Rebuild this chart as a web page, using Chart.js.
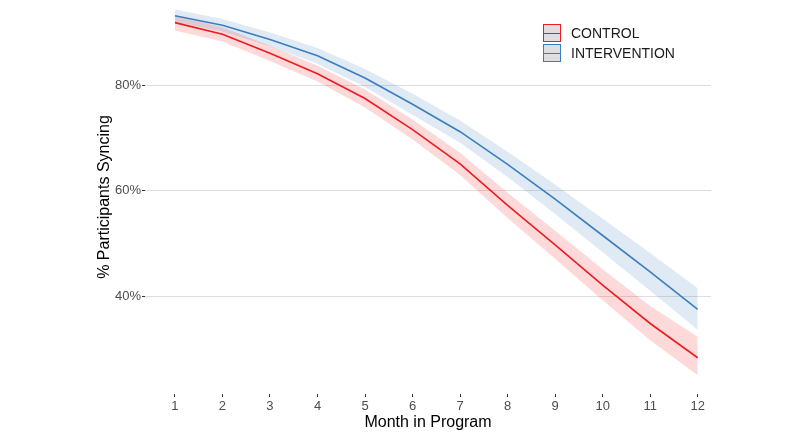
<!DOCTYPE html>
<html>
<head>
<meta charset="utf-8">
<script src="https://cdn.jsdelivr.net/npm/chart.js@4.4.1/dist/chart.umd.min.js"></script>
<style>
  html, body { margin: 0; padding: 0; background: #fff; }
  #wrap { width: 800px; height: 438px; }
</style>
</head>
<body>
<div id="wrap"><canvas id="grafico" width="800" height="438"></canvas></div>
<script>
// Dados
const months = [1, 2, 3, 4, 5, 6, 7, 8, 9, 10, 11, 12];
const yTicks = [40, 60, 80];

const controlMean  = [91.9, 89.7, 86.1, 82.2, 77.5, 71.6, 65.1, 57.2, 49.7, 42.1, 34.8, 28.3];
const controlUpper = [93.2, 91.0, 87.5, 83.7, 79.2, 73.5, 67.2, 59.6, 52.4, 45.1, 38.1, 32.3];
const controlLower = [90.4, 88.3, 84.6, 80.7, 75.8, 69.7, 63.0, 54.8, 47.1, 39.2, 31.6, 25.0];

const interMean  = [93.2, 91.4, 88.7, 85.6, 81.4, 76.4, 71.2, 65.0, 58.4, 51.5, 44.6, 37.5];
const interUpper = [94.4, 92.6, 90.0, 87.1, 83.1, 78.4, 73.3, 67.4, 61.2, 54.7, 48.2, 41.5];
const interLower = [92.0, 90.2, 87.4, 84.1, 79.7, 74.4, 69.1, 62.6, 55.6, 48.3, 41.0, 33.6];

const corControl = '#ec1c1f';
const corInter = '#3a7ebf';
const fonte = '"Liberation Sans", Arial, sans-serif';

const pontos = arr => arr.map((v, i) => ({ x: months[i], y: v }));

// Legenda desenhada dentro do painel
const legendItems = [['CONTROL', corControl], ['INTERVENTION', corInter]];
const legendaPlugin = {
  id: 'legendaCaixa',
  afterDraw(chart) {
    const c = chart.ctx;
    c.save();
    legendItems.forEach(([label, cor], i) => {
      const x = 543, y = 24 + i * 20;
      c.fillStyle = '#dedede';
      c.fillRect(x, y, 18, 18);
      c.strokeStyle = cor;
      c.lineWidth = 1;
      c.strokeRect(x + 0.5, y + 0.5, 17, 17);
      c.beginPath();
      c.moveTo(x + 1, y + 9.5);
      c.lineTo(x + 17, y + 9.5);
      c.stroke();
      c.fillStyle = '#1a1a1a';
      c.font = '14px ' + fonte;
      c.textBaseline = 'middle';
      c.fillText(label, 571, y + 10);
    });
    c.restore();
  }
};

const banda = (data, cor, fill) => ({
  data: pontos(data),
  borderWidth: 0,
  pointRadius: 0,
  backgroundColor: cor,
  fill: fill,
  tension: 0,
  clip: false,
  order: 2
});

const linha = (label, data, cor) => ({
  label: label,
  data: pontos(data),
  borderColor: cor,
  borderWidth: 1.6,
  pointRadius: 0,
  fill: false,
  tension: 0,
  clip: false,
  order: 0
});

new Chart(document.getElementById('grafico'), {
  type: 'line',
  data: {
    datasets: [
      banda(interUpper, 'rgba(55,126,184,0.16)', false),
      banda(interLower, 'rgba(55,126,184,0.16)', '-1'),
      banda(controlUpper, 'rgba(240,20,20,0.16)', false),
      banda(controlLower, 'rgba(240,20,20,0.16)', '-1'),
      linha('CONTROL', controlMean, corControl),
      linha('INTERVENTION', interMean, corInter)
    ]
  },
  options: {
    responsive: false,
    animation: false,
    devicePixelRatio: 1,
    layout: { padding: { top: 0, right: 89, left: 0, bottom: 0 } },
    plugins: {
      legend: { display: false },
      tooltip: { enabled: false }
    },
    scales: {
      x: {
        type: 'linear',
        min: 0.37,
        max: 12.28,
        afterBuildTicks: s => { s.ticks = months.map(v => ({ value: v })); },
        afterFit: s => { s.height = 44; s.paddingLeft = 0; s.paddingRight = 0; },
        border: { display: false },
        grid: { display: true, drawOnChartArea: false, drawTicks: true, tickLength: 3, tickColor: '#333' },
        ticks: { color: '#4d4d4d', font: { family: fonte, size: 13 }, padding: 2, maxRotation: 0 },
        title: { display: true, text: 'Month in Program', color: '#000', font: { family: fonte, size: 16 }, padding: { top: 0, bottom: 6 } }
      },
      y: {
        min: 21.42,
        max: 96.19,
        afterBuildTicks: s => { s.ticks = yTicks.map(v => ({ value: v })); },
        afterFit: s => { s.width = 145; s.paddingTop = 0; s.paddingBottom = 0; },
        border: { display: false },
        grid: { color: '#dedede', lineWidth: 1, tickLength: 3, tickColor: '#333' },
        ticks: { color: '#4d4d4d', font: { family: fonte, size: 13 }, padding: 1, callback: v => v + '%' },
        title: { display: true, text: '% Participants Syncing', color: '#000', font: { family: fonte, size: 16 }, padding: { top: 95, bottom: 0 } }
      }
    }
  },
  plugins: [legendaPlugin]
});
</script>
</body>
</html>
